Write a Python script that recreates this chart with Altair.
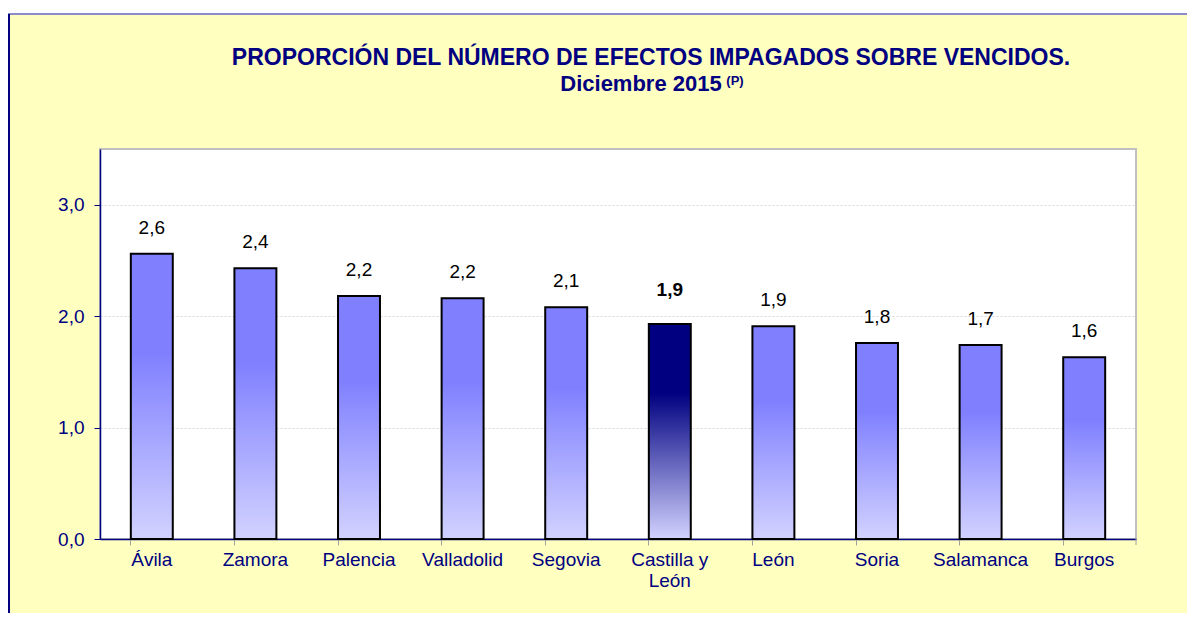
import altair as alt
import pandas as pd

# ---- data ----
provincias = ["Ávila", "Zamora", "Palencia", "Valladolid", "Segovia",
              "Castilla y León", "León", "Soria", "Salamanca", "Burgos"]
valores = [2.56, 2.43, 2.18, 2.16, 2.08, 1.93, 1.91, 1.76, 1.74, 1.63]
total_name = "Castilla y León"
y_ticks = [0, 1, 2, 3]
titulo = "PROPORCIÓN DEL NÚMERO DE EFECTOS IMPAGADOS SOBRE VENCIDOS."
subtitulo = "Diciembre 2015"
nota = "(P)"

df = pd.DataFrame({"provincia": provincias, "valor": valores})
df["etiqueta"] = [f"{v:.1f}".replace(".", ",") for v in valores]
one = pd.DataFrame({"k": [0]})

W, H = 1036, 390
FONT = "Liberation Sans"
NAVY = "#000080"
FS = 19

grad_normal = alt.Gradient(
    gradient="linear", x1=0, y1=0, x2=0, y2=1,
    stops=[alt.GradientStop(color="#8080FF", offset=0),
           alt.GradientStop(color="#8080FF", offset=0.35),
           alt.GradientStop(color="#D2D2FF", offset=1)])
grad_total = alt.Gradient(
    gradient="linear", x1=0, y1=0, x2=0, y2=1,
    stops=[alt.GradientStop(color="#000080", offset=0),
           alt.GradientStop(color="#000080", offset=0.32),
           alt.GradientStop(color="#D2D2FF", offset=1)])

xscale = alt.Scale(paddingInner=0.595, paddingOuter=0.2975)
split_expr = ("length(datum.label) > 12 ? "
              "[slice(datum.label, 0, lastindexof(datum.label, ' ')), "
              "slice(datum.label, lastindexof(datum.label, ' ') + 1)] : datum.label")

x_labels = alt.X("provincia:N", sort=provincias, scale=xscale,
                 axis=alt.Axis(orient="bottom", title=None, labelAngle=0,
                               labelFont=FONT, labelFontSize=FS, labelColor=NAVY,
                               ticks=False, tickSize=0, labelPadding=11,
                               labelLineHeight=21, labelExpr=split_expr,
                               domainColor=NAVY, domainWidth=1.5, grid=False))
x_none = alt.X("provincia:N", sort=provincias, scale=xscale, axis=None)
x_ticks = alt.X("provincia:N", sort=provincias, scale=xscale,
                axis=alt.Axis(orient="bottom", title=None, labels=False,
                              ticks=True, tickColor="#a0a0a0", tickSize=6,
                              bandPosition=0, domain=False, grid=False))

y_enc = alt.Y("valor:Q", scale=alt.Scale(domain=[0, 3.5], nice=False),
              axis=alt.Axis(values=y_ticks, title=None,
                            labelExpr="replace(format(datum.value, '.1f'), '.', ',')",
                            labelFont=FONT, labelFontSize=FS, labelColor=NAVY,
                            labelPadding=10, tickColor=NAVY, tickSize=6,
                            domainColor=NAVY, domainWidth=1.5,
                            grid=True, gridColor="#d8d8d8", gridDash=[2, 2]))

base = alt.Chart(df)

# decorations (outer frame)
white_strip = alt.Chart(one).mark_rect(color="white").encode(
    x=alt.value(-92), x2=alt.value(W + 60), y=alt.value(-141), y2=alt.value(-136))
top_line = alt.Chart(one).mark_rule(color="#8c8cc8", strokeWidth=2).encode(
    x=alt.value(-92), x2=alt.value(W + 60), y=alt.value(-135))
left_line = alt.Chart(one).mark_rule(color=NAVY, strokeWidth=2).encode(
    x=alt.value(-91), y=alt.value(-135), y2=alt.value(H + 80))
right_tick = alt.Chart(one).mark_rule(color="#a0a0a0", strokeWidth=1).encode(
    x=alt.value(W), y=alt.value(H), y2=alt.value(H + 6))

bars = base.transform_filter(alt.datum.provincia != total_name).mark_bar(
    fill=grad_normal, stroke="black", strokeWidth=2).encode(x=x_labels, y=y_enc)
bar_total = base.transform_filter(alt.datum.provincia == total_name).mark_bar(
    fill=grad_total, stroke="black", strokeWidth=2).encode(x=x_none, y=y_enc)

labels = base.transform_filter(alt.datum.provincia != total_name).mark_text(
    font=FONT, fontSize=FS, color="black", baseline="middle", dy=-26).encode(
    x=x_none, y=y_enc, text="etiqueta:N")
label_total = base.transform_filter(alt.datum.provincia == total_name).mark_text(
    font=FONT, fontSize=FS, fontWeight="bold", color="black", baseline="middle", dy=-34).encode(
    x=x_none, y=y_enc, text="etiqueta:N")

tick_layer = base.mark_point(opacity=0).encode(x=x_ticks, y=y_enc)

t1 = alt.Chart(one).mark_text(font=FONT, fontSize=23, fontWeight="bold", color=NAVY,
                              align="center", baseline="alphabetic").encode(
    x=alt.value(551), y=alt.value(-84), text=alt.value(titulo))
t2 = alt.Chart(one).mark_text(font=FONT, fontSize=22, fontWeight="bold", color=NAVY,
                              align="center", baseline="alphabetic").encode(
    x=alt.value(541), y=alt.value(-58), text=alt.value(subtitulo))
t3 = alt.Chart(one).mark_text(font=FONT, fontSize=13, fontWeight="bold", color=NAVY,
                              align="center", baseline="alphabetic").encode(
    x=alt.value(635), y=alt.value(-64), text=alt.value(nota))

chart = alt.layer(
    white_strip, top_line, left_line,
    bars, bar_total, labels, label_total, tick_layer, right_tick,
    t1, t2, t3
).resolve_axis(x="independent").properties(
    width=W, height=H, background="#FFFFC0",
    padding={"left": 92, "top": 141, "right": 51, "bottom": 74},
    autosize=alt.AutoSizeParams(type="none"),
).configure_view(fill="white", stroke="#c0c0c0", strokeWidth=2)

chart.save("out.html", embed_options={"renderer": "svg", "actions": False})
